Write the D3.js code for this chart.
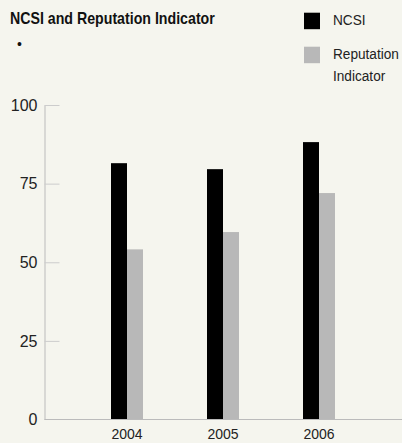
<!DOCTYPE html>
<html>
<head>
<meta charset="utf-8">
<script src="https://cdn.jsdelivr.net/npm/d3@7"></script>
<style>
  body { margin: 0; background: #f5f5ee; }
  svg { display: block; }
</style>
</head>
<body>
<svg id="chart" width="402" height="443"></svg>
<script>
const years = ['2004', '2005', '2006'];
const ncsi = [81.5, 79.6, 88.2];
const reputation = [54.1, 59.6, 72.0];
const yTicks = [0, 25, 50, 75, 100];

const FONT = '"Liberation Sans", Arial, sans-serif';
const svg = d3.select('#chart');

const y = d3.scaleLinear().domain([0, 100]).range([419.5, 105]);
const x = d3.scaleBand().domain(years).range([79, 367]).padding(0);
const bw = 16;

// title (condensed look via horizontal squeeze)
svg.append('text')
    .attr('transform', 'translate(10,24) scale(0.86,1)')
    .attr('font-family', FONT).attr('font-weight', 'bold')
    .attr('font-size', 16.5).attr('fill', '#111')
    .text('NCSI and Reputation Indicator');
svg.append('text')
    .attr('x', 17).attr('y', 49)
    .attr('font-family', FONT).attr('font-size', 14).attr('fill', '#111')
    .text('•');

// legend
const legend = [
    { label: ['NCSI'], color: '#000' },
    { label: ['Reputation', 'Indicator'], color: '#b8b8b8' }
];
legend.forEach((d, i) => {
    const ly = 12.7 + i * 34;
    svg.append('rect')
        .attr('x', 304).attr('y', ly).attr('width', 16).attr('height', 16.5)
        .attr('fill', d.color);
    d.label.forEach((t, j) => {
        svg.append('text')
            .attr('transform', `translate(333,${ly + 12.5 + j * 22}) scale(0.88,1)`)
            .attr('font-family', FONT).attr('font-size', 15.5).attr('fill', '#222')
            .text(t);
    });
});

// axis
const axisG = svg.append('g').attr('transform', 'translate(44.5,0)');
axisG.call(d3.axisLeft(y).tickValues(yTicks).tickSize(0).tickPadding(7));
axisG.select('.domain').attr('stroke', '#bbb');
axisG.selectAll('.tick text')
    .attr('font-family', FONT).attr('font-size', 16).attr('fill', '#222');
axisG.selectAll('.tick').filter(d => d > 0).append('line')
    .attr('x1', 0).attr('x2', 15).attr('stroke', '#ccc');

// bars
const groups = svg.append('g').selectAll('g')
    .data(years)
    .join('g')
    .attr('transform', d => `translate(${x(d) + x.bandwidth() / 2},0)`);

groups.append('rect')
    .attr('x', -bw).attr('width', bw)
    .attr('y', (d, i) => y(ncsi[i]))
    .attr('height', (d, i) => y(0) - y(ncsi[i]))
    .attr('fill', '#000');
groups.append('rect')
    .attr('x', 0).attr('width', bw)
    .attr('y', (d, i) => y(reputation[i]))
    .attr('height', (d, i) => y(0) - y(reputation[i]))
    .attr('fill', '#b8b8b8');

// baseline
svg.append('line')
    .attr('x1', 44.5).attr('x2', 402)
    .attr('y1', y(0)).attr('y2', y(0))
    .attr('stroke', '#bbb');

groups.append('text')
    .attr('y', 439).attr('text-anchor', 'middle')
    .attr('font-family', FONT).attr('font-size', 14).attr('fill', '#222')
    .text(d => d);
</script>
</body>
</html>
